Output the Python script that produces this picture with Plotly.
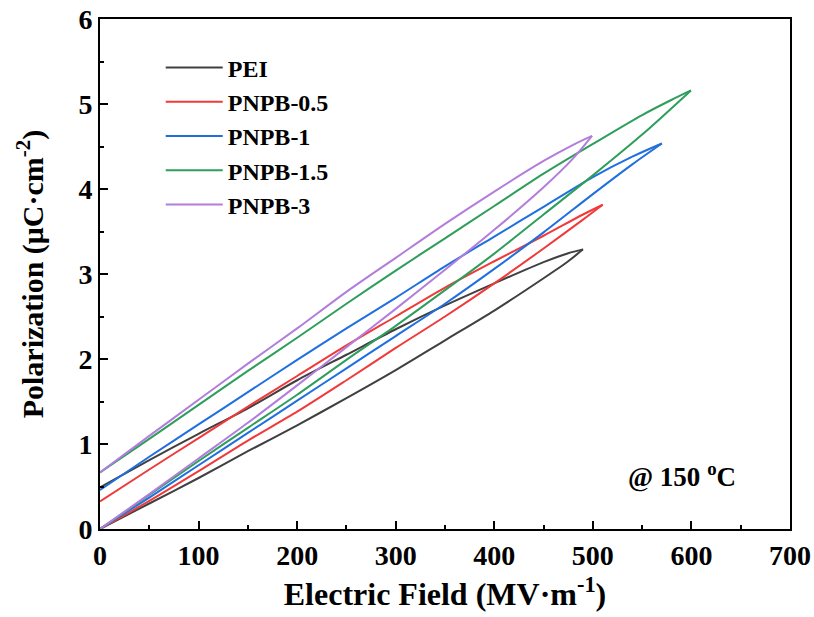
import plotly.graph_objects as go

# ---------------- data ----------------
names = ["PEI", "PNPB-0.5", "PNPB-1", "PNPB-1.5", "PNPB-3"]
colors = ["#404040", "#f03a3a", "#1f6fe0", "#2f9e5c", "#b27ddc"]

# charging branches (E ascending) and discharging branches (E descending)
pei_charge_E = [0, 50, 100, 150, 200, 250, 300, 350, 400, 450, 475, 490]
pei_charge_P = [0, 0.30, 0.60, 0.915, 1.22, 1.54, 1.87, 2.22, 2.57, 2.95, 3.15, 3.29]
pei_dis_E = [490, 475, 450, 400, 350, 300, 250, 200, 150, 100, 50, 0]
pei_dis_P = [3.29, 3.245, 3.14, 2.89, 2.63, 2.35, 2.05, 1.75, 1.42, 1.12, 0.81, 0.49]

p05_charge_E = [0, 50, 100, 150, 200, 250, 300, 350, 400, 450, 490, 510]
p05_charge_P = [0, 0.33, 0.68, 1.04, 1.38, 1.75, 2.13, 2.50, 2.89, 3.30, 3.64, 3.815]
p05_dis_E = [510, 490, 450, 400, 350, 300, 250, 200, 150, 100, 50, 0]
p05_dis_P = [3.815, 3.70, 3.45, 3.15, 2.84, 2.50, 2.16, 1.80, 1.44, 1.07, 0.70, 0.325]

p1_charge_E = [0, 50, 100, 150, 200, 250, 300, 350, 400, 450, 500, 540, 570]
p1_charge_P = [0, 0.37, 0.75, 1.13, 1.51, 1.89, 2.27, 2.65, 3.06, 3.49, 3.94, 4.29, 4.535]
p1_dis_E = [570, 540, 500, 450, 400, 350, 300, 250, 200, 150, 100, 50, 0]
p1_dis_P = [4.535, 4.38, 4.14, 3.79, 3.44, 3.09, 2.72, 2.36, 1.99, 1.61, 1.23, 0.85, 0.46]

p15_charge_E = [0, 50, 100, 150, 200, 250, 300, 350, 400, 450, 500, 550, 599.5]
p15_charge_P = [0, 0.40, 0.80, 1.19, 1.58, 1.99, 2.39, 2.81, 3.24, 3.70, 4.16, 4.64, 5.16]
p15_dis_E = [599.5, 580, 550, 500, 450, 400, 350, 300, 250, 200, 150, 100, 50, 0]
p15_dis_P = [5.16, 5.05, 4.87, 4.53, 4.18, 3.80, 3.42, 3.04, 2.65, 2.25, 1.86, 1.46, 1.06, 0.666]

p3_charge_E = [0, 50, 100, 150, 200, 250, 300, 350, 400, 450, 480, 499.2]
p3_charge_P = [0, 0.41, 0.83, 1.25, 1.69, 2.14, 2.59, 3.05, 3.52, 4.02, 4.36, 4.625]
p3_dis_E = [499.2, 480, 450, 400, 350, 300, 250, 200, 150, 100, 50, 0]
p3_dis_P = [4.625, 4.52, 4.33, 3.97, 3.59, 3.19, 2.79, 2.36, 1.945, 1.52, 1.095, 0.666]

x_ticks = [0, 100, 200, 300, 400, 500, 600, 700]
y_ticks = [0, 1, 2, 3, 4, 5, 6]

loops = [
    (pei_charge_E, pei_charge_P, pei_dis_E, pei_dis_P),
    (p05_charge_E, p05_charge_P, p05_dis_E, p05_dis_P),
    (p1_charge_E, p1_charge_P, p1_dis_E, p1_dis_P),
    (p15_charge_E, p15_charge_P, p15_dis_E, p15_dis_P),
    (p3_charge_E, p3_charge_P, p3_dis_E, p3_dis_P),
]

FONT = "Liberation Serif, Times New Roman, serif"

fig = go.Figure()
for name, col, (ce, cp, de, dp) in zip(names, colors, loops):
    fig.add_trace(go.Scatter(
        x=ce, y=cp, mode="lines", name=name, legendgroup=name, showlegend=True,
        line=dict(color=col, width=2, shape="spline", smoothing=0.8),
    ))
    fig.add_trace(go.Scatter(
        x=de, y=dp, mode="lines", name=name, legendgroup=name, showlegend=False,
        line=dict(color=col, width=2, shape="spline", smoothing=0.8),
    ))

axis_common = dict(
    showline=True, linecolor="black", linewidth=2, mirror=True,
    ticks="inside", ticklen=8, tickwidth=2, tickcolor="black",
    showgrid=False, zeroline=False, automargin=False,
    ticklabeloverflow="allow",
    tickfont=dict(family=FONT, size=28, color="black", weight="bold"),
)

fig.update_xaxes(
    range=[0, 700], tickvals=x_ticks,
    minor=dict(ticks="inside", ticklen=4, tickwidth=2, tickcolor="black", dtick=50, showgrid=False),
    title=dict(text="Electric Field (MV·m<sup>-1</sup>)",
               font=dict(family=FONT, size=32, color="black", weight="bold"), standoff=13),
    **axis_common,
)
fig.update_yaxes(
    range=[0, 6], tickvals=y_ticks,
    minor=dict(ticks="inside", ticklen=4, tickwidth=2, tickcolor="black", dtick=0.5, showgrid=False),
    title=dict(text="Polarization (μC·cm<sup>-2</sup>)",
               font=dict(family=FONT, size=30, color="black", weight="bold"), standoff=26),
    **axis_common,
)

fig.add_annotation(
    x=0.924, y=0.106, xref="paper", yref="paper", xanchor="right", yanchor="middle",
    text="@ 150 <sup>o</sup>C", showarrow=False,
    font=dict(family=FONT, size=27, color="black", weight="bold"),
)

fig.update_layout(
    width=814, height=617,
    margin=dict(l=100, r=24, t=19, b=88),
    paper_bgcolor="white", plot_bgcolor="white",
    showlegend=True,
    legend=dict(
        x=0.088, y=0.948, xanchor="left", yanchor="top",
        bgcolor="rgba(0,0,0,0)", borderwidth=0,
        font=dict(family=FONT, size=24, color="black", weight="bold"),
        itemwidth=57, tracegroupgap=0,
    ),
)

# remove the default 8 px page margin so the figure sits at the window origin
fig.write_html("out.html", config={"displayModeBar": False},
               post_script="document.body.style.margin='0px';")
